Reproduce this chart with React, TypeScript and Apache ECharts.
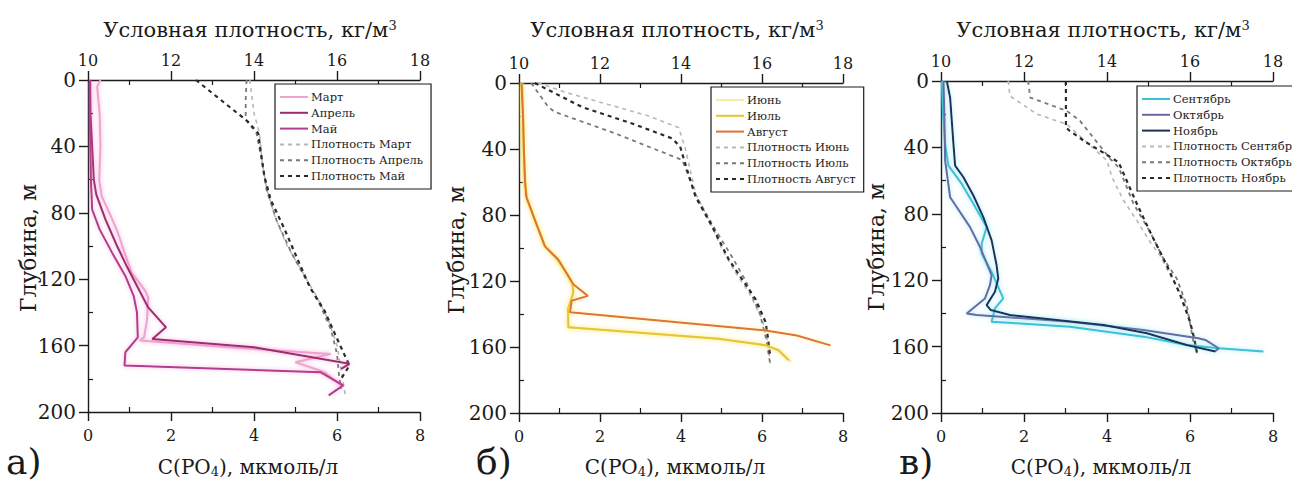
import React, { useEffect, useRef } from "react";
import * as echarts from "echarts";

// ---------- DATA ----------
const po4Ticks = [0, 2, 4, 6, 8];
const densityTicks = [10, 12, 14, 16, 18];
const depthTicks = [0, 40, 80, 120, 160, 200];

// Panel а) — [C(PO4), depth]
const martPO4 = [[0.30,0],[0.22,4],[0.28,20],[0.30,40],[0.27,60],[0.33,70],[0.55,82],[0.72,92],[0.88,104],[1.05,116],[1.38,127],[1.45,131],[1.42,145],[1.35,155],[1.25,157],[3.4,161],[5.85,165],[5.0,170],[5.7,176],[6.1,184]];
const aprelPO4 = [[0.05,0],[0.06,20],[0.10,40],[0.14,60],[0.20,69],[0.42,84],[0.70,100],[0.95,113],[1.20,125],[1.45,137],[1.88,149],[1.55,156],[4.0,161],[6.3,171],[6.1,174]];
const maiPO4 = [[0.05,0],[0.05,30],[0.07,60],[0.10,78],[0.28,90],[0.58,104],[0.90,118],[1.10,130],[1.18,140],[1.20,155],[1.10,158],[0.90,164],[0.88,172],[5.6,176],[6.15,184],[5.8,190]];
// Panel а) — [density, depth]
const martDens = [[13.9,0],[13.95,10],[14.0,20],[14.13,32],[14.2,50],[14.3,65],[14.5,82],[14.8,100],[15.15,115],[15.5,130],[15.8,145],[16.0,160],[16.1,175],[16.2,190]];
const aprelDens = [[13.82,0],[13.8,12],[13.8,24],[14.06,32],[14.2,50],[14.3,66],[14.55,85],[14.9,104],[15.25,120],[15.6,136],[15.85,150],[16.0,165],[16.05,178],[16.1,186]];
const maiDens = [[12.6,0],[13.1,10],[13.6,20],[13.85,25],[14.1,32],[14.25,58],[14.4,72],[14.72,89],[15.05,108],[15.35,125],[15.7,139],[15.95,153],[16.17,165],[16.3,172],[16.1,180]];

// Panel б)
const junPO4 = [[0.05,0],[0.06,20],[0.08,40],[0.12,60],[0.18,70],[0.40,84],[0.62,98],[0.90,106],[1.12,114],[1.30,122],[1.35,128],[1.22,136],[1.20,148],[4.9,155],[6.1,159],[6.4,162],[6.72,169]];
const julPO4 = [[0.08,0],[0.10,20],[0.12,40],[0.15,60],[0.20,70],[0.40,83],[0.64,99],[0.95,107],[1.17,115],[1.32,121],[1.34,127],[1.21,137],[1.22,148],[4.93,155],[6.09,159],[6.41,162],[6.66,168]];
const avgPO4 = [[0.06,0],[0.10,20],[0.12,40],[0.15,60],[0.18,69],[0.39,83],[0.64,99],[0.97,107],[1.17,115],[1.34,122],[1.70,129],[1.30,132],[1.26,139],[6.09,150],[6.86,153],[7.69,159]];
const junDens = [[10.47,0],[11.2,6],[12.2,13],[13.2,20],[13.94,27],[14.1,39],[14.36,67],[14.69,83],[15.02,101],[15.35,115],[15.68,127],[16.0,143],[16.15,158],[16.2,170]];
const julDens = [[10.3,0],[10.72,14.5],[10.88,17.5],[12.37,30.5],[14.02,46.6],[14.1,50.7],[14.36,68],[14.85,89],[15.25,105],[15.6,120],[15.95,140],[16.1,155],[16.2,170]];
const avgDens = [[10.39,0],[11.55,14.5],[12.79,24.5],[13.78,33.6],[13.98,38.6],[14.1,48.6],[14.36,69],[14.77,87],[15.18,107],[15.51,119],[15.84,131],[16.09,145],[16.15,155],[16.2,165]];

// Panel в)
const sepPO4 = [[0.02,0],[0.05,20],[0.10,38],[0.18,51],[0.50,62],[0.78,74],[1.10,88],[0.98,98],[0.98,104],[1.22,115],[1.50,131],[1.30,137],[1.22,145],[3.11,148],[4.88,154],[5.92,159],[6.69,161],[7.77,163]];
const oktPO4 = [[0.06,0],[0.08,20],[0.10,48],[0.22,70],[0.70,88],[0.94,100],[1.22,117],[1.18,123],[1.06,131],[0.62,140],[0.86,141],[3.11,145],[4.88,150],[6.2,155],[6.37,156],[6.69,161],[6.6,163]];
const noyPO4 = [[0.14,0],[0.22,10],[0.30,38],[0.34,51],[0.54,58],[0.78,69],[1.02,82],[1.22,96],[1.34,111],[1.38,119],[1.30,127],[1.10,135],[1.20,138],[1.66,141],[3.92,147],[4.96,152],[5.92,159],[6.61,163]];
const sepDens = [[11.62,0],[11.66,9],[12.31,20],[13.03,26],[14.0,48],[14.12,58],[14.4,72],[14.72,84],[15.04,97],[15.3,106],[15.52,117],[15.84,131],[16.0,145],[16.1,155],[16.17,164]];
const oktDens = [[12.1,0],[12.15,10],[13.03,18],[13.35,24],[14.08,47],[14.28,52],[14.64,74],[15.04,91],[15.36,107],[15.68,119],[15.92,135],[16.09,158],[16.17,164]];
const noyDens = [[13.01,0],[13.01,28],[13.1,30],[13.5,37],[13.9,43],[14.28,49],[14.72,74],[15.04,91],[15.44,111],[15.75,128],[16.0,145],[16.1,155],[16.17,164]];

const monthsA = ["Март", "Апрель", "Май"];
const monthsB = ["Июнь", "Июль", "Август"];
const monthsC = ["Сентябрь", "Октябрь", "Ноябрь"];
const panelLetters = ["а)", "б)", "в)"];

// ---------- STYLE ----------
const FONT = "DejaVu Serif";
const AX = "#1a1a1a";

const panels = [
  {
    grid: { left: 88, top: 80, width: 332, height: 332 },
    months: monthsA,
    po4: [martPO4, aprelPO4, maiPO4],
    dens: [martDens, aprelDens, maiDens],
    colors: ["#f0a3cc", "#9b2d6c", "#b23d8b"],
    glow: "rgba(240,120,200,0.55)",
    legend: { left: 275, top: 84 },
    letter: { x: 6, y: 461 },
    ylab: { x: 28, y: 248 },
  },
  {
    grid: { left: 519, top: 83, width: 324, height: 330 },
    months: monthsB,
    po4: [junPO4, julPO4, avgPO4],
    dens: [junDens, julDens, avgDens],
    colors: ["#f6eea0", "#e6c431", "#dc7434"],
    glow: "rgba(250,225,90,0.55)",
    legend: { left: 711, top: 87 },
    letter: { x: 476, y: 461 },
    ylab: { x: 456, y: 250 },
  },
  {
    grid: { left: 941, top: 81, width: 332, height: 332 },
    months: monthsC,
    po4: [sepPO4, oktPO4, noyPO4],
    dens: [sepDens, oktDens, noyDens],
    colors: ["#3cc0d8", "#6a69a2", "#1d3157"],
    glow: "rgba(80,210,235,0.5)",
    legend: { left: 1137, top: 86 },
    letter: { x: 899, y: 461 },
    ylab: { x: 876, y: 247 },
  },
];

const densColors = ["#b8b8b8", "#7a7a7a", "#2a2a2a"];
const densWidths = [1.6, 1.8, 2.2];

function buildOption() {
  const grid: any[] = [];
  const xAxis: any[] = [];
  const yAxis: any[] = [];
  const series: any[] = [];
  const legend: any[] = [];
  const graphic: any[] = [];

  panels.forEach((p, i) => {
    grid.push({ ...p.grid });
    const line = { show: true, onZero: false, lineStyle: { color: AX, width: 1.4 } };
    const tick = { show: true, length: 9, lineStyle: { color: AX, width: 1.4 } };
    const lab = { fontFamily: FONT, fontSize: 16, color: AX };
    xAxis.push({
      gridIndex: i, type: "value", position: "bottom", min: po4Ticks[0], max: po4Ticks[po4Ticks.length - 1], interval: 2,
      axisLine: line, axisTick: tick, axisLabel: { ...lab, margin: 15 }, splitLine: { show: false },
    });
    xAxis.push({
      gridIndex: i, type: "value", position: "top", min: densityTicks[0], max: densityTicks[densityTicks.length - 1], interval: 2,
      axisLine: line, axisTick: tick, axisLabel: { ...lab, margin: 12 }, splitLine: { show: false },
    });
    xAxis.push({
      gridIndex: i, type: "value", position: "bottom", min: 0, max: 8,
      axisLine: { show: false, onZero: false },
      axisTick: { show: true, inside: true, length: 5, customValues: [1, 3, 5, 7], lineStyle: { color: AX, width: 1.2 } },
      axisLabel: { show: false }, splitLine: { show: false },
    });
    xAxis.push({
      gridIndex: i, type: "value", position: "top", min: 10, max: 18,
      axisLine: { show: false, onZero: false },
      axisTick: { show: true, inside: true, length: 5, customValues: [11, 13, 15, 17], lineStyle: { color: AX, width: 1.2 } },
      axisLabel: { show: false }, splitLine: { show: false },
    });
    yAxis.push({
      gridIndex: i, type: "value", position: "left", inverse: true, min: depthTicks[0], max: depthTicks[depthTicks.length - 1], interval: 40,
      axisLine: line, axisTick: tick, axisLabel: { ...lab, fontSize: 20, margin: 12 }, splitLine: { show: false },
    });
    yAxis.push({
      gridIndex: i, type: "value", position: "left", inverse: true, min: 0, max: 200,
      axisLine: { show: false, onZero: false },
      axisTick: { show: true, inside: true, length: 5, customValues: [20, 60, 100, 140, 180], lineStyle: { color: AX, width: 1.2 } },
      axisLabel: { show: false }, splitLine: { show: false },
    });

    const names: string[] = [];
    p.months.forEach((m, k) => {
      names.push(m);
      series.push({
        name: m, type: "line", xAxisIndex: 4 * i, yAxisIndex: 2 * i, data: p.po4[k],
        symbol: "none", silent: true, z: 3 + k,
        lineStyle: { color: p.colors[k], width: 2, shadowBlur: 4, shadowColor: p.glow },
        itemStyle: { color: p.colors[k] },
      });
    });
    p.months.forEach((m, k) => {
      const nm = "Плотность " + m;
      names.push(nm);
      series.push({
        name: nm, type: "line", xAxisIndex: 4 * i + 1, yAxisIndex: 2 * i, data: p.dens[k],
        symbol: "none", silent: true, z: 2,
        lineStyle: { color: densColors[k], width: densWidths[k], type: [4, 4] },
        itemStyle: { color: densColors[k] },
      });
    });

    legend.push({
      left: p.legend.left, top: p.legend.top, orient: "vertical", data: names,
      selectedMode: false, borderColor: AX, borderWidth: 1.2, borderRadius: 0,
      backgroundColor: "#fff", padding: [7, 8, 7, 4], itemGap: 3.8,
      itemWidth: 28, itemHeight: 14, z: 10,
      itemStyle: { opacity: 0 },
      textStyle: { fontFamily: FONT, fontSize: 11.5, color: "#222", padding: [0, 0, 0, -2] },
    });

    const cx = p.grid.left + p.grid.width / 2;
    graphic.push({
      type: "text", x: cx - 4, y: 30, z: 20,
      style: {
        text: "{a|Условная плотность, кг/м}{s|3}",
        rich: {
          a: { fontFamily: FONT, fontSize: 21, fill: AX },
          s: { fontFamily: FONT, fontSize: 13, fill: AX, padding: [0, 0, 10, 0] },
        },
        textAlign: "center", textVerticalAlign: "middle", align: "center", verticalAlign: "middle",
      },
    });
    graphic.push({
      type: "text", x: cx - 6, y: 467, z: 20,
      style: {
        text: "{a|C(PO}{s|4}{a|), мкмоль/л}",
        rich: {
          a: { fontFamily: FONT, fontSize: 20, fill: AX },
          s: { fontFamily: FONT, fontSize: 13, fill: AX, padding: [8, 0, 0, 0] },
        },
        textAlign: "center", textVerticalAlign: "middle", align: "center", verticalAlign: "middle",
      },
    });
    graphic.push({
      type: "text", x: p.ylab.x, y: p.ylab.y, rotation: Math.PI / 2, z: 20,
      style: {
        text: "Глубина, м", fontFamily: FONT, fontSize: 22, fill: AX,
        textAlign: "center", textVerticalAlign: "middle", align: "center", verticalAlign: "middle",
      },
    });
    graphic.push({
      type: "text", x: p.letter.x, y: p.letter.y, z: 20,
      style: {
        text: panelLetters[i], fontFamily: FONT, fontSize: 36, fill: AX,
        textAlign: "left", textVerticalAlign: "middle", align: "left", verticalAlign: "middle",
      },
    });
  });

  return {
    animation: false,
    backgroundColor: "#fff",
    grid, xAxis, yAxis, series, legend, graphic,
  };
}

export default function App() {
  const ref = useRef<HTMLDivElement>(null);
  useEffect(() => {
    document.body.style.margin = "0";
    if (!ref.current) return;
    const chart = echarts.init(ref.current, undefined, { renderer: "svg" });
    chart.setOption(buildOption() as any);
    return () => chart.dispose();
  }, []);
  return <div ref={ref} style={{ width: 1292, height: 483, overflow: "hidden" }} />;
}
